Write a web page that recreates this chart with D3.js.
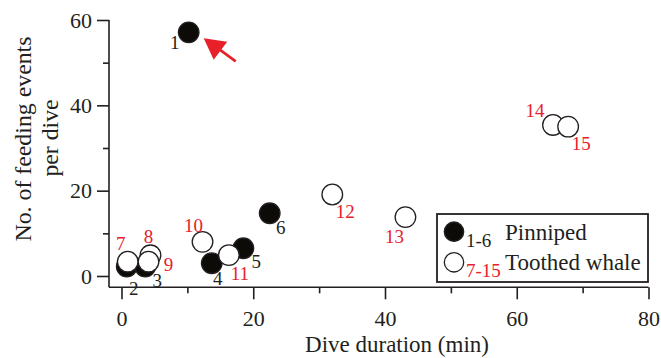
<!DOCTYPE html>
<html>
<head>
<meta charset="utf-8">
<script src="https://cdn.jsdelivr.net/npm/d3@7"></script>
<style>
  body { margin: 0; background: #fff; }
  svg text { font-family: "Liberation Serif", "Times New Roman", serif; fill: #231f20; }
</style>
</head>
<body>
<svg id="chart" width="661" height="358"></svg>
<script>
// datos
const ids = [1, 2, 3, 4, 5, 6, 7, 8, 9, 10, 11, 12, 13, 14, 15];
const durations = [10.2, 0.8, 3.6, 13.7, 18.5, 22.5, 0.95, 4.4, 4.1, 12.3, 16.3, 32.0, 43.1, 65.5, 67.8];
const events = [57.1, 2.2, 2.2, 3.0, 6.5, 14.7, 3.35, 4.85, 3.35, 8.0, 4.9, 19.1, 13.8, 35.4, 35.0];
const groups = ["Pinniped", "Pinniped", "Pinniped", "Pinniped", "Pinniped", "Pinniped",
  "Toothed whale", "Toothed whale", "Toothed whale", "Toothed whale", "Toothed whale",
  "Toothed whale", "Toothed whale", "Toothed whale", "Toothed whale"];
const xTicks = [0, 20, 40, 60, 80];
const xMinor = [10, 30, 50, 70];
const yTicks = [0, 20, 40, 60];
const yMinor = [10, 30, 50];
const legendItems = ["Pinniped", "Toothed whale"];
const legendRanges = ["1-6", "7-15"];

// desplazamiento de cada etiqueta respecto a su punto
const labelOffsets = [[-14, 10], [7, 22], [12, 14], [6, 15], [13, 13], [11, 14],
  [-7, -18], [-2, -19], [20, 3], [-9, -17], [11, 18], [13, 17], [-11, 19], [-18, -15], [13, 17]];

const points = ids.map(function (id, i) {
  return { id: id, x: durations[i], y: events[i], group: groups[i], off: labelOffsets[i] };
});

const svg = d3.select("#chart");
const ink = "#231f20";
const red = "#e8202a";

const x = d3.scaleLinear().domain([0, 80]).range([121.5, 648.5]);
const y = d3.scaleLinear().domain([0, 60]).range([276, 20]);
const axisX = 109;
const axisY = 287.3;

// ejes
svg.append("line").attr("x1", axisX).attr("x2", x(80)).attr("y1", axisY).attr("y2", axisY)
  .attr("stroke", ink).attr("stroke-width", 1.6);
svg.append("line").attr("x1", axisX).attr("x2", axisX).attr("y1", y(60)).attr("y2", axisY)
  .attr("stroke", ink).attr("stroke-width", 1.6);

const gx = svg.append("g").attr("transform", "translate(0," + axisY + ")")
  .call(d3.axisBottom(x).tickValues(xTicks).tickSize(12).tickPadding(6));
const gxm = svg.append("g").attr("transform", "translate(0," + axisY + ")")
  .call(d3.axisBottom(x).tickValues(xMinor).tickSize(6).tickFormat(""));
const gy = svg.append("g").attr("transform", "translate(" + axisX + ",0)")
  .call(d3.axisLeft(y).tickValues(yTicks).tickSize(12).tickPadding(5));
const gym = svg.append("g").attr("transform", "translate(" + axisX + ",0)")
  .call(d3.axisLeft(y).tickValues(yMinor).tickSize(6).tickFormat(""));

[gx, gxm, gy, gym].forEach(function (g) {
  g.select(".domain").remove();
  g.selectAll(".tick line").attr("stroke", ink).attr("stroke-width", 1.6);
  g.selectAll(".tick text").attr("font-size", 22).attr("fill", ink)
    .style("font-family", "'Liberation Serif', serif");
});
gx.selectAll(".tick text").attr("dy", "0.95em");
gy.selectAll(".tick text").attr("dy", "0.32em");

// titulos
svg.append("text").attr("x", 397).attr("y", 352).attr("text-anchor", "middle")
  .attr("font-size", 23).text("Dive duration (min)");
svg.append("text").attr("transform", "translate(31,139) rotate(-90)").attr("text-anchor", "middle")
  .attr("font-size", 23).attr("textLength", 205).attr("lengthAdjust", "spacingAndGlyphs")
  .text("No. of feeding events");
svg.append("text").attr("transform", "translate(58,138) rotate(-90)").attr("text-anchor", "middle")
  .attr("font-size", 23).attr("textLength", 77).attr("lengthAdjust", "spacingAndGlyphs")
  .text("per dive");

// flecha roja junto al punto 1
const p1 = points[0];
const ax = x(p1.x), ay = y(p1.y);
svg.append("line").attr("x1", ax + 47).attr("y1", ay + 29).attr("x2", ax + 28).attr("y2", ay + 15)
  .attr("stroke", red).attr("stroke-width", 2.6);
svg.append("path")
  .attr("d", "M" + (ax + 15) + "," + (ay + 6) + "L" + (ax + 38.5) + "," + (ay + 9.5) + "L" + (ax + 25) + "," + (ay + 27.5) + "Z")
  .attr("fill", red);

// puntos: primero los rellenos, luego los abiertos
const ordered = points.filter(function (d) { return d.group === "Pinniped"; })
  .concat(points.filter(function (d) { return d.group !== "Pinniped"; }));

svg.append("g").selectAll("circle").data(ordered).enter().append("circle")
  .attr("cx", function (d) { return x(d.x); })
  .attr("cy", function (d) { return y(d.y); })
  .attr("r", 10.3)
  .attr("fill", function (d) { return d.group === "Pinniped" ? "#0d0b08" : "#fff"; })
  .attr("stroke", ink).attr("stroke-width", 1.3);

svg.append("g").selectAll("text").data(points).enter().append("text")
  .attr("x", function (d) { return x(d.x) + d.off[0]; })
  .attr("y", function (d) { return y(d.y) + d.off[1]; })
  .attr("dy", "0.35em")
  .attr("text-anchor", "middle")
  .attr("font-size", 19)
  .style("fill", function (d) { return d.group === "Pinniped" ? ink : red; })
  .text(function (d) { return d.id; });

// leyenda
const legend = svg.append("g");
legend.append("rect").attr("x", 437).attr("y", 214).attr("width", 211).attr("height", 68)
  .attr("fill", "#fff").attr("stroke", ink).attr("stroke-width", 1.8);
legendItems.forEach(function (name, i) {
  const cy = 231.7 + i * 30.6;
  legend.append("circle").attr("cx", 454).attr("cy", cy).attr("r", 9.7)
    .attr("fill", i === 0 ? "#0d0b08" : "#fff").attr("stroke", ink).attr("stroke-width", 1.3);
  legend.append("text").attr("x", 466).attr("y", cy + 15).attr("font-size", 19)
    .style("fill", i === 0 ? ink : red).text(legendRanges[i]);
  legend.append("text").attr("x", 505).attr("y", cy + 8).attr("font-size", 23).text(name);
});
</script>
</body>
</html>
